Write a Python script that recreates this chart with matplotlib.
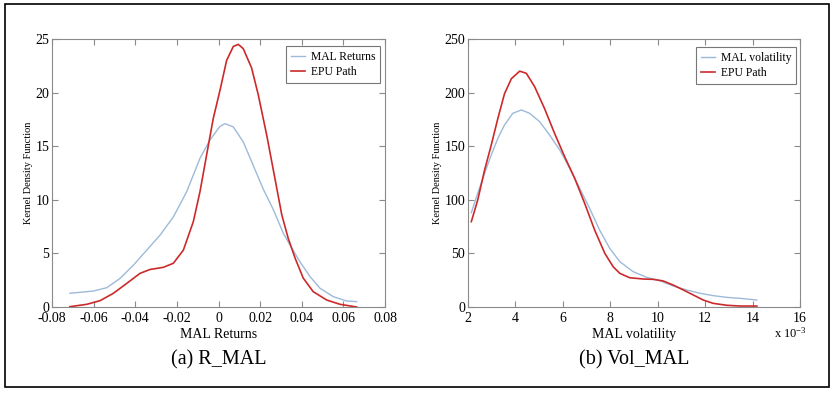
import matplotlib
matplotlib.use("Agg")
import matplotlib.pyplot as plt
from matplotlib.patches import Rectangle
import numpy as np

plt.rcParams['font.family'] = ['Liberation Serif', 'DejaVu Serif']
plt.rcParams['mathtext.default'] = 'regular'

# Panel (a): MAL Returns
ret_blue_x = [-0.0714, -0.0601, -0.0537, -0.0473, -0.0409, -0.0345, -0.0281, -0.0217, -0.0153,
              -0.0089, -0.0041, 0.0007, 0.0031, 0.0071, 0.0119, 0.0167, 0.0215, 0.0263, 0.0311,
              0.0343, 0.0391, 0.0440, 0.0488, 0.0552, 0.0616, 0.0664]
ret_blue_y = [1.28, 1.49, 1.80, 2.67, 3.9, 5.3, 6.7, 8.4, 10.75,
              13.87, 15.58, 16.85, 17.1, 16.8, 15.4, 13.2, 11.0, 9.1, 6.9,
              5.8, 4.23, 2.83, 1.74, 0.96, 0.56, 0.5]
ret_red_x = [-0.0714, -0.0633, -0.0569, -0.0505, -0.0441, -0.0377, -0.0329, -0.0265, -0.0217,
             -0.0169, -0.0121, -0.0089, -0.0057, -0.0025, 0.0007, 0.0039, 0.0071, 0.0095,
             0.0119, 0.0159, 0.0191, 0.0232, 0.0271, 0.0304, 0.0335, 0.0368, 0.0407, 0.0455,
             0.052, 0.0584, 0.0664]
ret_red_y = [0.03, 0.25, 0.59, 1.28, 2.2, 3.14, 3.5, 3.7, 4.08,
             5.3, 7.96, 10.75, 14.2, 17.6, 20.2, 23.0, 24.3, 24.5,
             24.1, 22.3, 19.8, 16.0, 12.0, 8.6, 6.4, 4.56, 2.7, 1.43,
             0.65, 0.25, 0.0]

# Panel (b): MAL volatility (x in units of 1e-3)
vol_blue_x = [2.14, 2.41, 2.70, 2.98, 3.26, 3.54, 3.89, 4.25, 4.60, 5.02, 5.44, 5.87, 6.29,
              6.71, 7.13, 7.55, 7.97, 8.40, 8.96, 9.53, 10.09, 10.65, 11.22, 11.78, 12.34,
              12.91, 13.47, 14.18]
vol_blue_y = [88, 106, 124.7, 141.8, 157.4, 169.8, 180.7, 183.8, 180.7, 172.9, 160.4, 146.5,
              129.4, 110.7, 92, 71.8, 55, 42.3, 33, 27.7, 24.5, 19.6, 15.9, 12.8, 10.6,
              9.0, 8.1, 6.5]
vol_red_x = [2.14, 2.41, 2.70, 2.98, 3.26, 3.54, 3.83, 4.18, 4.46, 4.81, 5.23, 5.65, 6.08,
             6.50, 6.92, 7.34, 7.77, 8.12, 8.40, 8.82, 9.39, 9.81, 10.23, 10.65, 11.08, 11.50,
             11.92, 12.34, 12.91, 13.47, 14.18]
vol_red_y = [79.6, 99.8, 127.8, 151, 176, 199, 213, 220, 218, 205.5, 185, 162, 140,
             120, 96.7, 71.8, 50, 37.6, 31.4, 27.3, 26.1, 25.8, 24.3, 20.5, 15.9, 11.2,
             6.5, 3.4, 1.6, 0.9, 0.9]

BLUE = '#9dbad9'
RED = '#cc2a2a'
SPINE = '#8a8a8a'

fig = plt.figure(figsize=(8.34, 3.93), dpi=100)
fig.patches.append(Rectangle((5/834, 1 - 387/393), 824/834, 383/393, transform=fig.transFigure,
                             fill=False, edgecolor='black', linewidth=1.2))

ax1 = fig.add_axes([52/834, 1 - 307/393, 333/834, 268/393])
ax2 = fig.add_axes([468/834, 1 - 307/393, 332/834, 268/393])

ax1.plot(ret_blue_x, ret_blue_y, color=BLUE, lw=1.0, label='MAL Returns')
ax1.plot(ret_red_x, ret_red_y, color=RED, lw=1.2, label='EPU Path')
ax1.set_xlim(-0.08, 0.08)
ax1.set_ylim(0, 25)
ax1.set_xticks(np.arange(-0.08, 0.0801, 0.02))
ax1.set_xticklabels(['-0.08', '-0.06', '-0.04', '-0.02', '0', '0.02', '0.04', '0.06', '0.08'])
ax1.set_yticks([0, 5, 10, 15, 20, 25])
ax1.set_xlabel('MAL Returns', fontsize=10, labelpad=2)
ax1.set_ylabel('Kernel Density Function', fontsize=7.5, labelpad=2)

ax2.plot(vol_blue_x, vol_blue_y, color=BLUE, lw=1.0, label='MAL volatility')
ax2.plot(vol_red_x, vol_red_y, color=RED, lw=1.2, label='EPU Path')
ax2.set_xlim(2, 16)
ax2.set_ylim(0, 250)
ax2.set_xticks([2, 4, 6, 8, 10, 12, 14, 16])
ax2.set_yticks([0, 50, 100, 150, 200, 250])
ax2.set_xlabel('MAL volatility', fontsize=10, labelpad=2)
ax2.set_ylabel('Kernel Density Function', fontsize=7.5, labelpad=2)
fig.text(790/834, 1 - 333/393, 'x 10$^{-3}$', fontsize=9, ha='center', va='center')

for ax in (ax1, ax2):
    for s in ax.spines.values():
        s.set_color(SPINE)
        s.set_linewidth(0.8)
    ax.tick_params(direction='in', top=True, right=True, color=SPINE, length=4,
                   labelsize=10, width=0.8)
    ax.tick_params(axis='x', pad=3.5)
    ax.tick_params(axis='y', pad=2)

leg1 = ax1.legend(loc='upper right', fontsize=8.4, frameon=True, fancybox=False,
                  edgecolor='#555555', handlelength=1.2, handletextpad=0.5, borderpad=0.4,
                  bbox_to_anchor=(0.985, 0.974), borderaxespad=0, labelspacing=0.3)
leg2 = ax2.legend(loc='upper right', fontsize=8.4, frameon=True, fancybox=False,
                  edgecolor='#555555', handlelength=1.2, handletextpad=0.5, borderpad=0.4,
                  bbox_to_anchor=(0.988, 0.97), borderaxespad=0, labelspacing=0.3)
for leg in (leg1, leg2):
    leg.get_frame().set_linewidth(0.8)

fig.text((52 + 385) / 2 / 834, 1 - 360/393, '(a) R_MAL', fontsize=14.5, ha='center', va='center')
fig.text((468 + 800) / 2 / 834, 1 - 360/393, '(b) Vol_MAL', fontsize=14.5, ha='center', va='center')

fig.savefig('out.png', dpi=100)
